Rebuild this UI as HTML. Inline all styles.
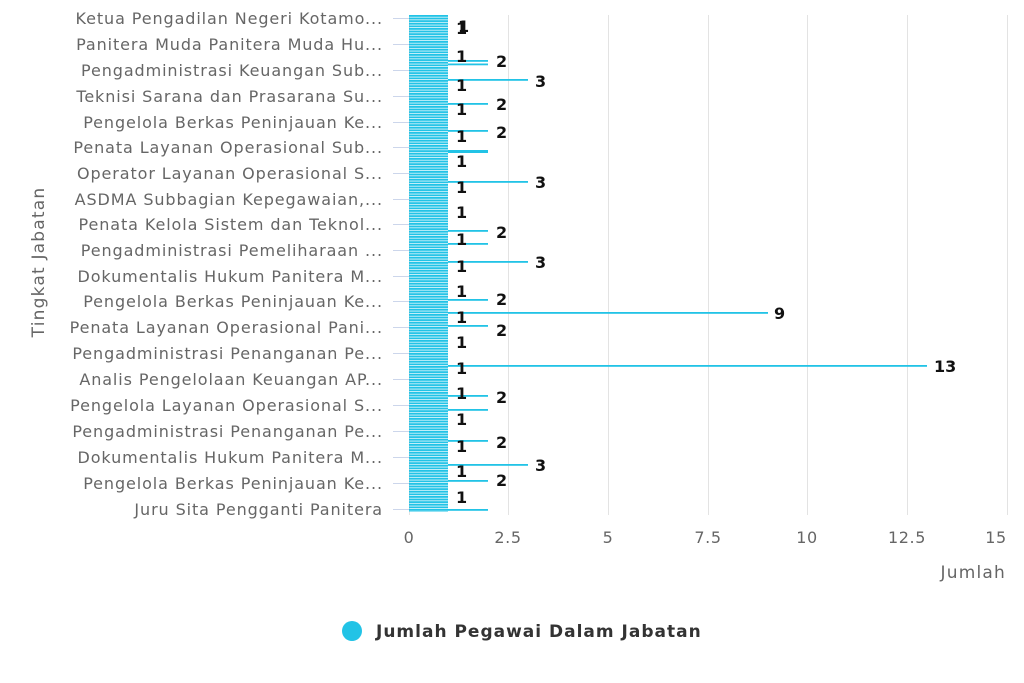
<!DOCTYPE html>
<html><head><meta charset="utf-8"><style>
body{margin:0;background:#fff;}
svg{display:block;font-family:"DejaVu Sans","Liberation Sans",sans-serif;}
.yl{font-size:16px;fill:#666;text-anchor:end;letter-spacing:0.9px;}
.xl{font-size:16px;fill:#666;text-anchor:middle;letter-spacing:0.6px;}
.dl{font-size:16px;font-weight:bold;fill:#111;}
</style></head><body>
<svg width="1024" height="683" viewBox="0 0 1024 683">
<defs>
<pattern id="st" x="0" y="15" width="40" height="2.6" patternUnits="userSpaceOnUse">
<rect x="0" y="0" width="40" height="1.9" fill="#22c3e6"/>
</pattern>
</defs>
<g stroke="#e3e3e3" stroke-width="1">
<line x1="409.5" y1="15" x2="409.5" y2="515"/>
<line x1="508.5" y1="15" x2="508.5" y2="515"/>
<line x1="608.5" y1="15" x2="608.5" y2="515"/>
<line x1="708.5" y1="15" x2="708.5" y2="515"/>
<line x1="807.5" y1="15" x2="807.5" y2="515"/>
<line x1="907.5" y1="15" x2="907.5" y2="515"/>
<line x1="1007.5" y1="15" x2="1007.5" y2="515"/>
</g>
<g stroke="#ccd6eb" stroke-width="1">
<line x1="393" y1="18.5" x2="409" y2="18.5"/><line x1="393" y1="44.5" x2="409" y2="44.5"/>
<line x1="393" y1="70.5" x2="409" y2="70.5"/><line x1="393" y1="96.5" x2="409" y2="96.5"/>
<line x1="393" y1="122.5" x2="409" y2="122.5"/><line x1="393" y1="147.5" x2="409" y2="147.5"/>
<line x1="393" y1="173.5" x2="409" y2="173.5"/><line x1="393" y1="199.5" x2="409" y2="199.5"/>
<line x1="393" y1="224.5" x2="409" y2="224.5"/><line x1="393" y1="250.5" x2="409" y2="250.5"/>
<line x1="393" y1="276.5" x2="409" y2="276.5"/><line x1="393" y1="301.5" x2="409" y2="301.5"/>
<line x1="393" y1="327.5" x2="409" y2="327.5"/><line x1="393" y1="353.5" x2="409" y2="353.5"/>
<line x1="393" y1="379.5" x2="409" y2="379.5"/><line x1="393" y1="405.5" x2="409" y2="405.5"/>
<line x1="393" y1="431.5" x2="409" y2="431.5"/><line x1="393" y1="457.5" x2="409" y2="457.5"/>
<line x1="393" y1="483.5" x2="409" y2="483.5"/><line x1="393" y1="509.5" x2="409" y2="509.5"/>
</g>
<rect x="409" y="15" width="39" height="497" fill="url(#st)"/>
<g fill="#22c3e6">
<rect x="448" y="60" width="40" height="1.8"/><rect x="448" y="63.5" width="40" height="1.8"/>
<rect x="448" y="79" width="80" height="1.8"/>
<rect x="448" y="103" width="40" height="1.8"/>
<rect x="448" y="130" width="40" height="1.8"/>
<rect x="448" y="150" width="40" height="3"/>
<rect x="448" y="181" width="80" height="1.8"/>
<rect x="448" y="230" width="40" height="1.8"/>
<rect x="448" y="243" width="40" height="1.8"/>
<rect x="448" y="261" width="80" height="1.8"/>
<rect x="448" y="299" width="40" height="1.8"/>
<rect x="448" y="312" width="320" height="1.8"/>
<rect x="448" y="325" width="40" height="1.8"/>
<rect x="448" y="365" width="479" height="1.8"/>
<rect x="448" y="395" width="40" height="1.8"/>
<rect x="448" y="409" width="40" height="1.8"/>
<rect x="448" y="440" width="40" height="1.8"/>
<rect x="448" y="464" width="80" height="1.8"/>
<rect x="448" y="480" width="40" height="1.8"/>
<rect x="448" y="509" width="40" height="1.8"/>
</g>
<g class="yl">
<text x="383" y="24">Ketua Pengadilan Negeri Kotamo...</text>
<text x="383" y="50">Panitera Muda Panitera Muda Hu...</text>
<text x="383" y="76">Pengadministrasi Keuangan Sub...</text>
<text x="383" y="102">Teknisi Sarana dan Prasarana Su...</text>
<text x="383" y="128">Pengelola Berkas Peninjauan Ke...</text>
<text x="383" y="153">Penata Layanan Operasional Sub...</text>
<text x="383" y="179">Operator Layanan Operasional S...</text>
<text x="383" y="205">ASDMA Subbagian Kepegawaian,...</text>
<text x="383" y="230">Penata Kelola Sistem dan Teknol...</text>
<text x="383" y="256">Pengadministrasi Pemeliharaan ...</text>
<text x="383" y="282">Dokumentalis Hukum Panitera M...</text>
<text x="383" y="307">Pengelola Berkas Peninjauan Ke...</text>
<text x="383" y="333">Penata Layanan Operasional Pani...</text>
<text x="383" y="359">Pengadministrasi Penanganan Pe...</text>
<text x="383" y="385">Analis Pengelolaan Keuangan AP...</text>
<text x="383" y="411">Pengelola Layanan Operasional S...</text>
<text x="383" y="437">Pengadministrasi Penanganan Pe...</text>
<text x="383" y="463">Dokumentalis Hukum Panitera M...</text>
<text x="383" y="489">Pengelola Berkas Peninjauan Ke...</text>
<text x="383" y="515">Juru Sita Pengganti Panitera</text>
</g>
<g class="xl">
<text x="409" y="543">0</text><text x="508" y="543">2.5</text><text x="608" y="543">5</text>
<text x="708" y="543">7.5</text><text x="807" y="543">10</text><text x="907" y="543">12.5</text>
<text x="996" y="543">15</text>
</g>
<text x="1006" y="578" font-size="17" fill="#666" text-anchor="end" letter-spacing="1.2">Jumlah</text>
<text transform="translate(44,262) rotate(-90)" font-size="17" fill="#666" text-anchor="middle" letter-spacing="1.2">Tingkat Jabatan</text>
<g class="dl">
<text x="456" y="34">1</text><text x="458" y="32">1</text>
<text x="456" y="62">1</text><text x="456" y="91">1</text><text x="456" y="115">1</text>
<text x="456" y="142">1</text><text x="456" y="167">1</text><text x="456" y="193">1</text>
<text x="456" y="218">1</text><text x="456" y="245">1</text><text x="456" y="272">1</text>
<text x="456" y="297">1</text><text x="456" y="323">1</text><text x="456" y="348">1</text>
<text x="456" y="374">1</text><text x="456" y="399">1</text><text x="456" y="425">1</text>
<text x="456" y="452">1</text><text x="456" y="477">1</text><text x="456" y="503">1</text>
<text x="496" y="67">2</text><text x="496" y="110">2</text><text x="496" y="138">2</text>
<text x="496" y="238">2</text><text x="496" y="305">2</text><text x="496" y="336">2</text>
<text x="496" y="403">2</text><text x="496" y="448">2</text><text x="496" y="486">2</text>
<text x="535" y="87">3</text><text x="535" y="188">3</text><text x="535" y="268">3</text><text x="535" y="471">3</text>
<text x="774" y="319">9</text><text x="934" y="372">13</text>
</g>
<circle cx="352" cy="631" r="10" fill="#22c3e6"/>
<text x="376" y="637" font-size="17" font-weight="bold" fill="#333" letter-spacing="1">Jumlah Pegawai Dalam Jabatan</text>
</svg>
</body></html>
